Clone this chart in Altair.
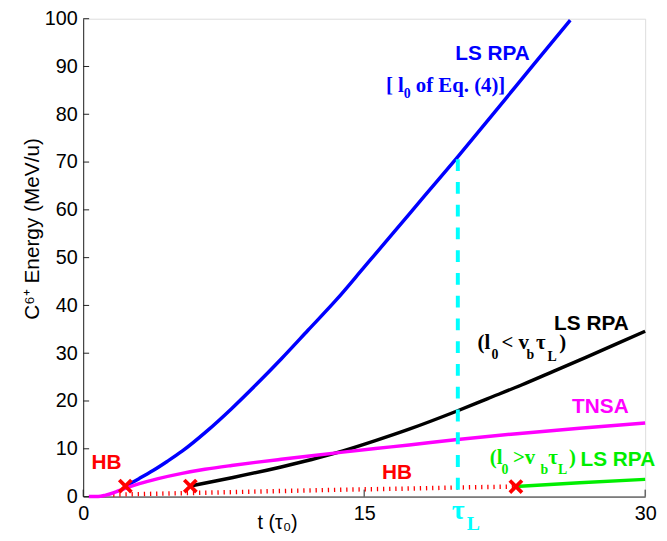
import altair as alt
import pandas as pd

# ---------------- data ----------------
t_lsrpa_eq4 = [2.25, 3.0, 3.75, 4.5, 5.28, 6.6, 7.92, 9.25, 10.57, 12.0, 13.52, 15.0, 16.52, 18.2, 19.95, 22.0, 24.0, 26.0]
e_lsrpa_eq4 = [2.2, 3.8, 5.5, 7.4, 9.5, 13.7, 18.4, 23.5, 28.8, 34.8, 41.2, 48.0, 55.0, 62.8, 70.9, 80.6, 90.2, 99.7]

t_lsrpa_short = [5.72, 7.0, 8.0, 10.57, 12.2, 13.87, 15.6, 17.4, 19.86, 21.6, 23.4, 25.1, 26.9, 28.5, 30.0]
e_lsrpa_short = [2.2, 3.2, 4.0, 6.2, 7.75, 9.55, 11.7, 14.1, 17.75, 20.5, 23.35, 26.2, 29.25, 32.0, 34.6]

t_tnsa = [0.3, 0.8, 1.2, 1.75, 2.27, 3.0, 4.0, 5.28, 6.5, 7.92, 9.2, 10.57, 12.2, 13.87, 15.6, 17.4, 19.86, 23.0, 26.5, 30.0]
e_tnsa = [0.0, 0.0, 0.3, 1.0, 1.75, 2.7, 3.75, 4.85, 5.7, 6.5, 7.15, 7.8, 8.55, 9.3, 10.05, 10.8, 11.9, 13.1, 14.3, 15.4]

t_lsrpa_long = [23.1, 26.5, 30.0]
e_lsrpa_long = [2.1, 2.9, 3.6]

t_hb = [1.6, 4.0, 7.0, 10.4, 14.0, 17.0, 20.0, 23.1]
e_hb = [0.4, 0.6, 0.85, 1.15, 1.45, 1.65, 1.9, 2.1]

t_switch = [2.25, 5.72, 23.1]
e_switch = [2.2, 2.2, 2.1]

tau_L = [20.0]
e_tau_L_top = [70.6]

x_ticks = [0, 15, 30]
y_ticks = [0, 10, 20, 30, 40, 50, 60, 70, 80, 90, 100]

# annotation pieces: text, t, E (baseline), font size, colour
sans_text = ["LS RPA", "LS RPA", "TNSA", "LS RPA", "HB", "HB"]
sans_t = [19.86, 25.14, 26.1, 26.55, 0.44, 15.95]
sans_e = [91.26, 34.85, 17.39, 6.36, 5.86, 3.73]
sans_color = ["#0000FF", "#000000", "#FF00FF", "#00EE00", "#FF0000", "#FF0000"]

serif_text = ["[ l", "0", "of Eq. (4)]",
              "(l", "0", "< v", "b", "τ", "L", ")",
              "(l", "0", ">v", "b", "τ", "L", ")",
              "L"]
serif_t = [16.16, 17.11, 17.76,
           21.05, 21.80, 22.33, 23.66, 24.17, 24.79, 25.41,
           21.71, 22.33, 22.94, 24.41, 24.83, 25.35, 25.93,
           20.48]
serif_e = [84.68, 83.44, 84.68,
           30.85, 28.78, 30.85, 28.78, 30.85, 28.43, 30.85,
           6.83, 4.62, 6.83, 4.62, 6.83, 4.62, 6.83,
           -7.0]
serif_size = [21, 14, 21,
              21, 14, 21, 14, 21, 14, 21,
              21, 14, 21, 14, 21, 14, 21,
              20]
serif_color = ["#0000FF"] * 3 + ["#000000"] * 7 + ["#00EE00"] * 7 + ["#00FFFF"]

tau_text = ["τ"]
tau_t = [19.68]
tau_e = [-4.76]

# ---------------- chart ----------------
SANS = "Liberation Sans"
SERIF = "Liberation Serif"

xscale = alt.Scale(domain=[0, 30], nice=False, zero=False)
yscale = alt.Scale(domain=[0, 100], nice=False, zero=False)

xaxis = alt.Axis(values=x_ticks, format="d", grid=False, ticks=False, tickSize=0,
                 domainColor="#222222", domainWidth=1,
                 labelFont=SANS, labelFontSize=20, labelColor="black",
                 labelPadding=7, labelFlush=False, labelOverlap=False,
                 title="t (τ₀)", titleFont=SANS, titleFontSize=20,
                 titleFontWeight="normal", titleColor="black",
                 titleX=196, titleY=26, titleBaseline="middle", titleAlign="center")
yaxis = alt.Axis(values=y_ticks, format="d", grid=False, ticks=False, tickSize=0,
                 domainColor="#222222", domainWidth=1,
                 labelFont=SANS, labelFontSize=20, labelColor="black",
                 labelPadding=6, labelFlush=False, labelOverlap=False,
                 title="C⁶⁺ Energy (MeV/u)", titleFont=SANS, titleFontSize=21,
                 titleFontWeight="normal", titleColor="black",
                 titleX=-51, titleY=212, titleAngle=270,
                 titleBaseline="middle", titleAlign="center")

X = alt.X("t:Q", scale=xscale, axis=xaxis)
Y = alt.Y("e:Q", scale=yscale, axis=yaxis)


def line_df(ts, es):
    return pd.DataFrame({"t": ts, "e": es})


hb = alt.Chart(line_df(t_hb, e_hb)).mark_line(
    color="#FF0000", strokeWidth=4.5, strokeDash=[1.3, 4.9], strokeCap="butt"
).encode(x=X, y=Y)

blue = alt.Chart(line_df(t_lsrpa_eq4, e_lsrpa_eq4)).mark_line(
    color="#0000FF", strokeWidth=3.5, interpolate="monotone"
).encode(x=X, y=Y)

black = alt.Chart(line_df(t_lsrpa_short, e_lsrpa_short)).mark_line(
    color="#000000", strokeWidth=3.5, interpolate="monotone"
).encode(x=X, y=Y)

green = alt.Chart(line_df(t_lsrpa_long, e_lsrpa_long)).mark_line(
    color="#00EE00", strokeWidth=3.5, interpolate="monotone"
).encode(x=X, y=Y)

pink = alt.Chart(line_df(t_tnsa, e_tnsa)).mark_line(
    color="#FF00FF", strokeWidth=3.5, interpolate="monotone"
).encode(x=X, y=Y)

cyan = alt.Chart(pd.DataFrame({"t": tau_L, "e": e_tau_L_top, "e0": [0.0]})).mark_rule(
    color="#00FFFF", strokeWidth=4, strokeDash=[12, 11], strokeCap="butt"
).encode(x=X, y=Y, y2="e0:Q")

crosses = alt.Chart(line_df(t_switch, e_switch)).mark_point(
    shape="M-1,-1L1,1M-1,1L1,-1", size=150, filled=False,
    color="#FF0000", strokeWidth=3.8, opacity=1
).encode(x=X, y=Y)

ytick_marks = alt.Chart(pd.DataFrame({"e": y_ticks, "t": [0] * len(y_ticks)})).mark_rule(
    color="#222222", strokeWidth=1
).encode(x=X, x2=alt.value(6), y=Y)

xtick_marks = alt.Chart(pd.DataFrame({"t": x_ticks, "e": [0] * len(x_ticks)})).mark_rule(
    color="#222222", strokeWidth=1
).encode(x=X, y=Y, y2=alt.value(476))

sans_labels = alt.Chart(pd.DataFrame({"t": sans_t, "e": sans_e, "txt": sans_text,
                                      "c": sans_color})).mark_text(
    align="left", baseline="alphabetic", font=SANS, fontWeight="bold", fontSize=21
).encode(x=X, y=Y, text="txt:N", color=alt.Color("c:N", scale=None))

serif_labels = alt.Chart(pd.DataFrame({"t": serif_t, "e": serif_e, "txt": serif_text,
                                       "s": serif_size, "c": serif_color})).mark_text(
    align="left", baseline="alphabetic", font=SERIF, fontWeight="bold"
).encode(x=X, y=Y, text="txt:N", size=alt.Size("s:Q", scale=None),
         color=alt.Color("c:N", scale=None))

tau_label = alt.Chart(pd.DataFrame({"t": tau_t, "e": tau_e, "txt": tau_text})).mark_text(
    align="left", baseline="alphabetic", font=SERIF, fontSize=28, fontWeight="bold",
    color="#00FFFF"
).encode(x=X, y=Y, text="txt:N")

chart = alt.layer(
    hb, blue, black, green, pink, cyan, crosses, ytick_marks, xtick_marks,
    sans_labels, serif_labels, tau_label
).properties(
    width=568, height=483,
    autosize=alt.AutoSizeParams(type="none"),
    padding={"left": 76, "top": 8, "right": 14, "bottom": 34},
).configure_view(stroke=None).configure(background="white")

chart.save("out.html", embed_options={"renderer": "svg", "actions": False})
